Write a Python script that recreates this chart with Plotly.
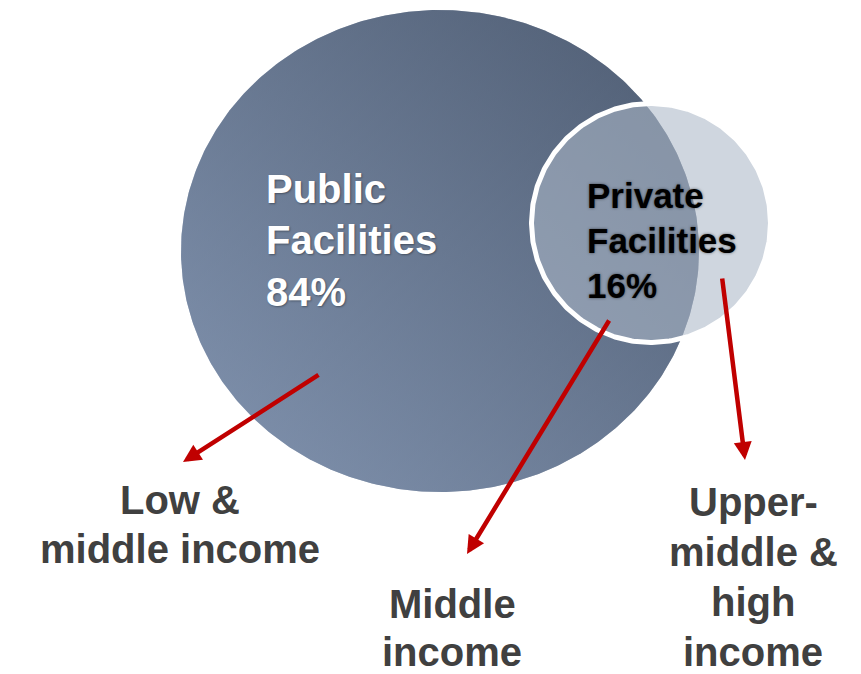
import numpy as np
import plotly.graph_objects as go

# Share of facilities by ownership
sectors = ["Public", "Private"]
sector_noun = "Facilities"
shares = [84, 16]

# Income groups served, one list of text lines per arrow
income_groups = [
    ["Low &", "middle income"],
    ["Middle", "income"],
    ["Upper-", "middle &", "high", "income"],
]

W, H = 861, 674

# Disc geometry in pixel space (y grows downward)
BIG = dict(cx=440, cy=251, rx=259, ry=241)
SMALL = dict(cx=651, cy=223, rx=119.5, ry=119.5)

DARK = "rgb(78,92,114)"
LIGHT = "rgb(130,148,176)"
RED = "#c00000"
GREY_TEXT = "#404040"
FONT = "Arial, Liberation Sans, sans-serif"


def ellipse(cx, cy, rx, ry, n=480):
    t = np.linspace(0, 2 * np.pi, n)
    return cx + rx * np.cos(t), cy + ry * np.sin(t)


fig = go.Figure()

# Public disc: horizontal gradient with a half-transparent vertical one on top,
# giving a diagonal shading (light at lower left, dark at upper right)
bx, by = ellipse(**BIG)
fig.add_trace(go.Scatter(
    x=bx, y=by, mode="lines", line=dict(width=0), fill="toself",
    fillgradient=dict(type="horizontal", colorscale=[[0, LIGHT], [1, DARK]]),
    hoverinfo="skip", showlegend=False))
fig.add_trace(go.Scatter(
    x=bx, y=by, mode="lines", line=dict(width=0), fill="toself", opacity=0.5,
    fillgradient=dict(type="vertical", colorscale=[[0, LIGHT], [1, DARK]]),
    hoverinfo="skip", showlegend=False))

# Private disc: translucent fill with a white rim
sx, sy = ellipse(**SMALL)
fig.add_trace(go.Scatter(
    x=sx, y=sy, mode="lines", line=dict(color="white", width=5), fill="toself",
    fillcolor="rgba(171,184,199,0.575)", hoverinfo="skip", showlegend=False))

annotations = []


def text_lines(lines, x, baselines, size, color, xanchor, shadow="none"):
    for line, base in zip(lines, baselines):
        annotations.append(dict(
            x=x, y=base - 0.3465 * size, xref="x", yref="y",
            text=line, showarrow=False, xanchor=xanchor, yanchor="middle",
            font=dict(family=FONT, size=size, color=color, weight="bold",
                      shadow=shadow)))


# Sector labels inside the discs
text_lines([sectors[0], sector_noun, f"{shares[0]}%"], 264, [203, 254, 306],
           40, "white", "left", "1px 1px 2px rgba(0,0,0,0.35)")
text_lines([sectors[1], sector_noun, f"{shares[1]}%"], 585, [208, 253, 298],
           35, "black", "left", "0px 0px 3px rgba(0,0,0,0.55)")

# Income group labels below
label_pos = [
    (180, [514, 563]),
    (452, [618, 666]),
    (753, [516, 566, 616, 666]),
]
for lines, (cx, bases) in zip(income_groups, label_pos):
    text_lines(lines, cx, bases, 40, GREY_TEXT, "center")

# Arrows from each disc region to its income group (tail, head)
arrows = [
    ((320, 374), (183, 462)),
    ((610, 319), (467, 554)),
    ((722, 277), (745, 460)),
]
for (tx, ty), (hx, hy) in arrows:
    annotations.append(dict(
        x=hx, y=hy, ax=tx, ay=ty, xref="x", yref="y", axref="x", ayref="y",
        text="", showarrow=True, arrowhead=2, arrowsize=0.8, arrowwidth=4.5,
        arrowcolor=RED, standoff=0, startstandoff=0))

fig.update_layout(
    width=W, height=H,
    margin=dict(l=0, r=0, t=0, b=0),
    paper_bgcolor="white", plot_bgcolor="white",
    xaxis=dict(range=[0, W], visible=False, fixedrange=True),
    yaxis=dict(range=[H, 0], visible=False, fixedrange=True),
    annotations=annotations,
    showlegend=False,
    hovermode=False,
)

fig.write_html("out.html", config={"displayModeBar": False})
